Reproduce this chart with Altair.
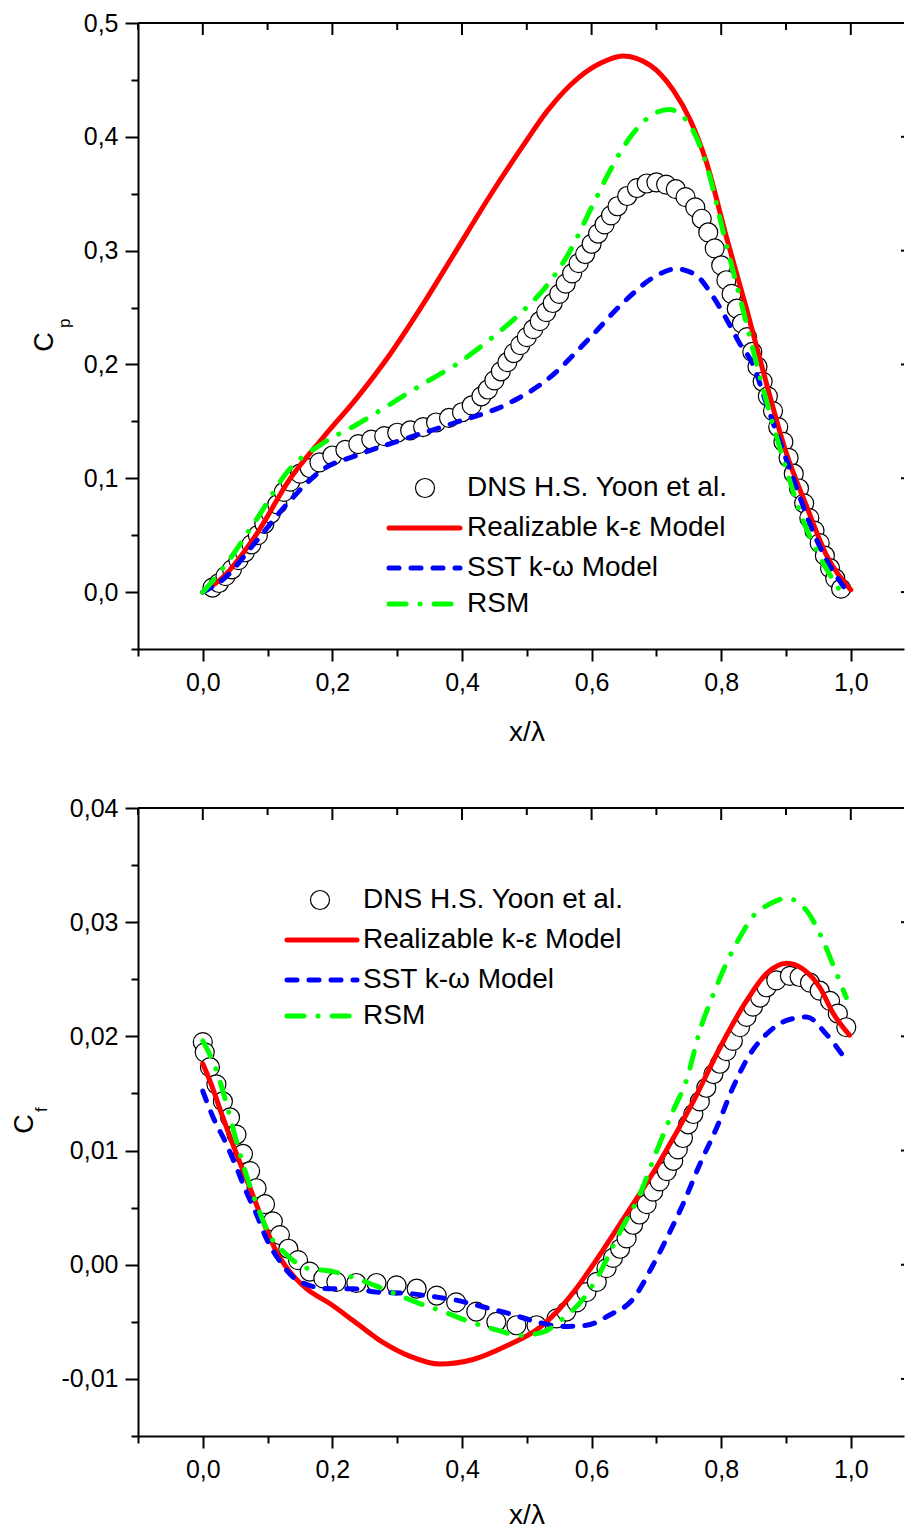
import altair as alt
import pandas as pd

# ---------------- Top panel: pressure coefficient Cp ----------------
cp_dns_x = [0.015, 0.025, 0.035, 0.045, 0.055, 0.065, 0.075, 0.085, 0.095, 0.105, 0.115, 0.125, 0.135,
            0.15, 0.165, 0.18, 0.2, 0.22, 0.24, 0.26, 0.28, 0.3, 0.32, 0.34, 0.36, 0.38, 0.4, 0.415,
            0.43, 0.44, 0.45, 0.46, 0.47, 0.48, 0.49, 0.5, 0.51, 0.52, 0.53, 0.54, 0.55, 0.56, 0.57,
            0.58, 0.59, 0.6, 0.61, 0.62, 0.63, 0.64, 0.655, 0.67, 0.685, 0.7, 0.715, 0.73, 0.745, 0.76,
            0.77, 0.78, 0.79, 0.8, 0.808, 0.816, 0.824, 0.832, 0.84, 0.848, 0.856, 0.864, 0.872, 0.88,
            0.888, 0.896, 0.904, 0.912, 0.92, 0.928, 0.936, 0.944, 0.952, 0.96, 0.968, 0.976, 0.985]
cp_dns_y = [0.004, 0.008, 0.014, 0.02, 0.028, 0.035, 0.042, 0.05, 0.06, 0.069, 0.077, 0.088, 0.097,
            0.104, 0.109, 0.114, 0.12, 0.125, 0.13, 0.134, 0.137, 0.14, 0.142, 0.145, 0.149, 0.153,
            0.158, 0.164, 0.172, 0.178, 0.186, 0.194, 0.202, 0.21, 0.217, 0.224, 0.231, 0.238, 0.246,
            0.254, 0.262, 0.271, 0.28, 0.289, 0.297, 0.306, 0.315, 0.323, 0.331, 0.339, 0.348, 0.355,
            0.359, 0.36, 0.358, 0.354, 0.347, 0.338, 0.328, 0.316, 0.302, 0.287, 0.274, 0.262, 0.249,
            0.236, 0.224, 0.211, 0.198, 0.185, 0.172, 0.159, 0.145, 0.132, 0.118, 0.104, 0.091, 0.078,
            0.065, 0.054, 0.043, 0.032, 0.021, 0.012, 0.003]

cp_rke_x = [0.0, 0.031, 0.083, 0.134, 0.186, 0.237, 0.289, 0.34, 0.391, 0.443, 0.494, 0.532, 0.58,
            0.615, 0.648, 0.69, 0.726, 0.752, 0.777, 0.808, 0.839, 0.87, 0.9, 0.932, 0.962, 1.0]
cp_rke_y = [0.0, 0.013, 0.051, 0.099, 0.136, 0.17, 0.209, 0.253, 0.3, 0.348, 0.392, 0.423, 0.452,
            0.465, 0.471, 0.463, 0.441, 0.415, 0.378, 0.312, 0.249, 0.183, 0.123, 0.075, 0.033, 0.002]

cp_sst_x = [0.0, 0.031, 0.083, 0.134, 0.186, 0.237, 0.314, 0.39, 0.469, 0.532, 0.6, 0.65, 0.7,
            0.731, 0.762, 0.788, 0.808, 0.829, 0.849, 0.87, 0.89, 0.911, 0.932, 0.958, 0.99]
cp_sst_y = [0.0, 0.011, 0.045, 0.08, 0.108, 0.12, 0.135, 0.149, 0.165, 0.187, 0.225, 0.255, 0.278,
            0.284, 0.278, 0.259, 0.24, 0.218, 0.2, 0.165, 0.133, 0.1, 0.067, 0.033, 0.004]

cp_rsm_x = [0.0, 0.03, 0.083, 0.134, 0.186, 0.237, 0.289, 0.34, 0.391, 0.443, 0.494, 0.532, 0.565,
            0.6, 0.63, 0.66, 0.69, 0.72, 0.752, 0.777, 0.805, 0.835, 0.865, 0.895, 0.925, 0.955,
            0.985]
cp_rsm_y = [0.0, 0.02, 0.064, 0.108, 0.131, 0.147, 0.165, 0.183, 0.2, 0.222, 0.247, 0.27, 0.298,
            0.338, 0.372, 0.4, 0.418, 0.424, 0.41, 0.376, 0.312, 0.245, 0.178, 0.118, 0.065, 0.028,
            0.0]

# ---------------- Bottom panel: skin friction coefficient Cf ----------------
cf_dns_x = [0.0, 0.003, 0.011, 0.021, 0.031, 0.042, 0.052, 0.062, 0.073, 0.083, 0.096, 0.108, 0.119,
            0.132, 0.147, 0.165, 0.186, 0.206, 0.237, 0.268, 0.299, 0.33, 0.361, 0.391, 0.422, 0.453,
            0.484, 0.515, 0.546, 0.561, 0.577, 0.592, 0.608, 0.623, 0.633, 0.644, 0.654, 0.664, 0.674,
            0.685, 0.695, 0.705, 0.716, 0.726, 0.733, 0.741, 0.749, 0.757, 0.767, 0.777, 0.788, 0.798,
            0.808, 0.818, 0.829, 0.839, 0.849, 0.86, 0.87, 0.885, 0.906, 0.921, 0.937, 0.952, 0.968,
            0.98, 0.993]
cf_dns_y = [0.0195, 0.0186, 0.0173, 0.0158, 0.0143, 0.0129, 0.0114, 0.0097, 0.0082, 0.0067, 0.0053,
            0.0038, 0.0026, 0.0014, 0.0004, -0.0006, -0.0012, -0.0015, -0.0016, -0.0016, -0.0018,
            -0.0021, -0.0027, -0.0033, -0.0041, -0.005, -0.0053, -0.0053, -0.0047, -0.0041, -0.0033,
            -0.0024, -0.0015, -0.0003, 0.0006, 0.0014, 0.0023, 0.0035, 0.0044, 0.0053, 0.0064, 0.0073,
            0.0082, 0.0091, 0.0101, 0.0111, 0.0123, 0.0132, 0.0143, 0.0155, 0.0167, 0.0176, 0.0187,
            0.0196, 0.0208, 0.0217, 0.0226, 0.0234, 0.0243, 0.0249, 0.0253, 0.0252, 0.0247, 0.024,
            0.0231, 0.022, 0.0208]

cf_rke_x = [0.0, 0.011, 0.031, 0.052, 0.073, 0.093, 0.114, 0.134, 0.16, 0.196, 0.237, 0.278, 0.319,
            0.366, 0.417, 0.469, 0.52, 0.55, 0.575, 0.6, 0.65, 0.705, 0.757, 0.798, 0.839, 0.87,
            0.901, 0.926, 0.952, 0.973, 0.998]
cf_rke_y = [0.0176, 0.0161, 0.0129, 0.0097, 0.0067, 0.0038, 0.0011, -0.0006, -0.0021, -0.0034,
            -0.0051, -0.0068, -0.008, -0.0087, -0.0083, -0.0071, -0.0055, -0.0039, -0.0022, -0.0002,
            0.0041, 0.009, 0.0143, 0.019, 0.0231, 0.0255, 0.0264, 0.0259, 0.0243, 0.022, 0.0201]

cf_sst_x = [0.0, 0.016, 0.037, 0.052, 0.067, 0.083, 0.098, 0.119, 0.15, 0.196, 0.232, 0.268, 0.314,
            0.356, 0.391, 0.433, 0.474, 0.515, 0.556, 0.592, 0.628, 0.664, 0.695, 0.721, 0.741, 0.767,
            0.793, 0.818, 0.844, 0.87, 0.901, 0.932, 0.962, 0.993]
cf_sst_y = [0.0152, 0.0129, 0.0105, 0.0085, 0.0064, 0.0044, 0.0023, 0.0003, -0.0015, -0.0021,
            -0.0021, -0.0024, -0.0025, -0.0028, -0.0031, -0.0037, -0.0043, -0.005, -0.0054, -0.0053,
            -0.0044, -0.003, 0.0, 0.0029, 0.0053, 0.0088, 0.012, 0.0155, 0.0184, 0.0202, 0.0214,
            0.0217, 0.0202, 0.0179]

cf_rsm_x = [0.0, 0.021, 0.037, 0.052, 0.067, 0.083, 0.103, 0.129, 0.16, 0.201, 0.237, 0.278, 0.33,
            0.371, 0.412, 0.453, 0.489, 0.525, 0.556, 0.587, 0.608, 0.644, 0.674, 0.7, 0.726, 0.746,
            0.767, 0.788, 0.808, 0.829, 0.849, 0.875, 0.901, 0.932, 0.957, 0.978, 0.993]
cf_rsm_y = [0.0196, 0.017, 0.014, 0.0108, 0.0079, 0.0053, 0.0026, 0.0009, -0.0003, -0.0006, -0.0012,
            -0.0021, -0.0033, -0.0041, -0.005, -0.0057, -0.0062, -0.0059, -0.0047, -0.003, -0.0012,
            0.0029, 0.0061, 0.0099, 0.0135, 0.0161, 0.0205, 0.0237, 0.0264, 0.0287, 0.0305, 0.0316,
            0.0321, 0.031, 0.0284, 0.0255, 0.0234]

legend_labels = ["DNS H.S. Yoon et al.", "Realizable k-ε Model", "SST k-ω Model", "RSM"]

x_ticks = [round(-0.1 + 0.1 * i, 1) for i in range(12)]          # -0.1 .. 1.0
cp_ticks = [round(-0.05 + 0.05 * i, 2) for i in range(12)]      # -0.05 .. 0.5
cf_ticks = [round(-0.015 + 0.005 * i, 3) for i in range(12)]    # -0.015 .. 0.04
x_major = [v for v in x_ticks if round(v * 10) % 2 == 0]
x_minor = [v for v in x_ticks if round(v * 10) % 2 != 0]

FONT = "Liberation Sans"
W = 766
XDOM = [-0.1, -0.1 + W / 648.0]
RED, BLUE, GREEN = "#FF0000", "#0000FF", "#00FF00"
LW = 5
DASH_SST = [10, 12]
DASH_RSM = [17, 14, 0.1, 14]
LABEL_FS = 25
LEGEND_FS = 28


def panel(H, ydom, yticks, ymult, yfmt, neg_prefix, dns, rke, sst, rsm, sub, leg, title_pos,
          xt_y, anchor=False):
    xs = alt.Scale(domain=XDOM, nice=False, zero=False)
    ys = alt.Scale(domain=ydom, nice=False, zero=False)
    if neg_prefix:
        ylab = (f"abs(round(datum.value*{ymult})) % 2 == 0 ? "
                f"(datum.value < 0 ? '-' : '') + replace(format(abs(datum.value), '{yfmt}'), '.', ',') : ''")
    else:
        ylab = (f"abs(round(datum.value*{ymult})) % 2 == 0 ? "
                f"replace(format(datum.value, '{yfmt}'), '.', ',') : ''")
    xaxis = alt.Axis(
        values=x_ticks, title=None, grid=False,
        labelExpr="abs(round(datum.value*10)) % 2 == 0 ? replace(format(datum.value, '.1f'), '.', ',') : ''",
        tickSize={"condition": {"test": "abs(round(datum.value*10)) % 2 == 0", "value": 12}, "value": 7},
        labelPadding=9, labelFlush=False, labelOverlap=False,
        labelFont=FONT, labelFontSize=LABEL_FS, labelColor="black",
        domainColor="black", domainWidth=2, tickColor="black", tickWidth=2,
    )
    yaxis = alt.Axis(
        values=yticks, title=None, grid=False, labelExpr=ylab,
        tickSize={"condition": {"test": f"abs(round(datum.value*{ymult})) % 2 == 0", "value": 13}, "value": 7},
        labelPadding=7, labelFlush=False, labelOverlap=False,
        labelFont=FONT, labelFontSize=LABEL_FS, labelColor="black",
        domainColor="black", domainWidth=2, tickColor="black", tickWidth=2,
    )
    df_dns = pd.DataFrame({"x": dns[0], "y": dns[1]})
    pts = alt.Chart(df_dns).mark_point(
        shape="circle", filled=True, fill="white", stroke="black", strokeWidth=1.2,
        size=361, opacity=1, fillOpacity=1
    ).encode(x=alt.X("x:Q", scale=xs, axis=xaxis), y=alt.Y("y:Q", scale=ys, axis=yaxis))

    def line(d, color, dash=None):
        kw = dict(color=color, strokeWidth=LW, strokeCap="round", strokeJoin="round",
                  interpolate="monotone")
        if dash:
            kw["strokeDash"] = dash
        return alt.Chart(pd.DataFrame({"x": d[0], "y": d[1]})).mark_line(**kw).encode(
            x=alt.X("x:Q", scale=xs), y=alt.Y("y:Q", scale=ys))

    layers = [pts, line(rke, RED), line(sst, BLUE, DASH_SST), line(rsm, GREEN, DASH_RSM)]

    one = pd.DataFrame({"a": [0]})
    if anchor:
        # invisible anchor that fixes the page offset of the plot area
        layers.append(alt.Chart(one).mark_rule(strokeOpacity=0, strokeWidth=1, color="white").encode(
            x=alt.value(-137.5), x2=alt.value(-136.5), y=alt.value(-22.5)))
    # top frame line and inward ticks
    layers.append(alt.Chart(one).mark_rule(color="black", strokeWidth=2).encode(
        x=alt.value(0), x2=alt.value(W), y=alt.value(0)))
    layers.append(alt.Chart(pd.DataFrame({"t": x_major})).mark_rule(color="black", strokeWidth=2).encode(
        x=alt.X("t:Q", scale=xs), y=alt.value(0), y2=alt.value(12)))
    layers.append(alt.Chart(pd.DataFrame({"t": x_minor})).mark_rule(color="black", strokeWidth=2).encode(
        x=alt.X("t:Q", scale=xs), y=alt.value(0), y2=alt.value(7)))
    # right-side inward tick stubs (the frame lies just beyond the picture)
    ymaj = [v for v in yticks if round(v * ymult) % 2 == 0]
    layers.append(alt.Chart(pd.DataFrame({"t": ymaj})).mark_rule(color="black", strokeWidth=2).encode(
        y=alt.Y("t:Q", scale=ys), x=alt.value(W - 3), x2=alt.value(W)))

    # legend
    lx_line0, lx_line1, lx_circ, lx_text, ly = leg
    layers.append(alt.Chart(one).mark_point(
        shape="circle", filled=True, fill="white", stroke="black", strokeWidth=1.2, size=361, opacity=1
    ).encode(x=alt.value(lx_circ), y=alt.value(ly[0])))
    for color, dash, yy in [(RED, None, ly[1]), (BLUE, DASH_SST, ly[2]), (GREEN, DASH_RSM, ly[3])]:
        kw = dict(color=color, strokeWidth=LW, strokeCap="round")
        if dash:
            kw["strokeDash"] = dash
        layers.append(alt.Chart(one).mark_rule(**kw).encode(
            x=alt.value(lx_line0), x2=alt.value(lx_line1), y=alt.value(yy)))
    for lab, yy in zip(legend_labels, ly):
        layers.append(alt.Chart(pd.DataFrame({"t": [lab]})).mark_text(
            font=FONT, fontSize=LEGEND_FS, align="left", baseline="middle", color="black"
        ).encode(text="t:N", x=alt.value(lx_text), y=alt.value(yy)))

    # axis titles
    cx, cy, sx, sy = title_pos
    layers.append(alt.Chart(pd.DataFrame({"t": ["C"]})).mark_text(
        font=FONT, fontSize=27, angle=270, align="center", baseline="alphabetic", color="black"
    ).encode(text="t:N", x=alt.value(cx), y=alt.value(cy)))
    layers.append(alt.Chart(pd.DataFrame({"t": [sub]})).mark_text(
        font=FONT, fontSize=17, angle=270, align="left", baseline="alphabetic", color="black"
    ).encode(text="t:N", x=alt.value(sx), y=alt.value(sy)))
    layers.append(alt.Chart(pd.DataFrame({"t": ["x/λ"]})).mark_text(
        font=FONT, fontSize=28, align="center", baseline="middle", color="black"
    ).encode(text="t:N", x=alt.value(389), y=alt.value(xt_y)))

    return alt.layer(*layers).properties(width=W, height=H)


top = panel(626, [-0.05, 0.5], cp_ticks, 20, ".1f", False,
            (cp_dns_x, cp_dns_y), (cp_rke_x, cp_rke_y), (cp_sst_x, cp_sst_y), (cp_rsm_x, cp_rsm_y),
            "p", (251, 322, 287, 329, [465, 505, 545, 581]), (-85, 319, -68, 305), 710, anchor=True)
bottom = panel(628, [-0.015, 0.04], cf_ticks, 200, ".2f", True,
               (cf_dns_x, cf_dns_y), (cf_rke_x, cf_rke_y), (cf_sst_x, cf_sst_y), (cf_rsm_x, cf_rsm_y),
               "f", (149, 219, 182, 225, [92, 132, 172, 208]), (-105, 316, -91, 304), 708)

chart = alt.vconcat(top, bottom, spacing=159, bounds="flush").properties(
    padding={"left": 0, "top": 0, "right": 0, "bottom": 0},
    background="white",
).configure_view(stroke=None)

chart.save("out.html", embed_options={"renderer": "svg", "actions": False})
